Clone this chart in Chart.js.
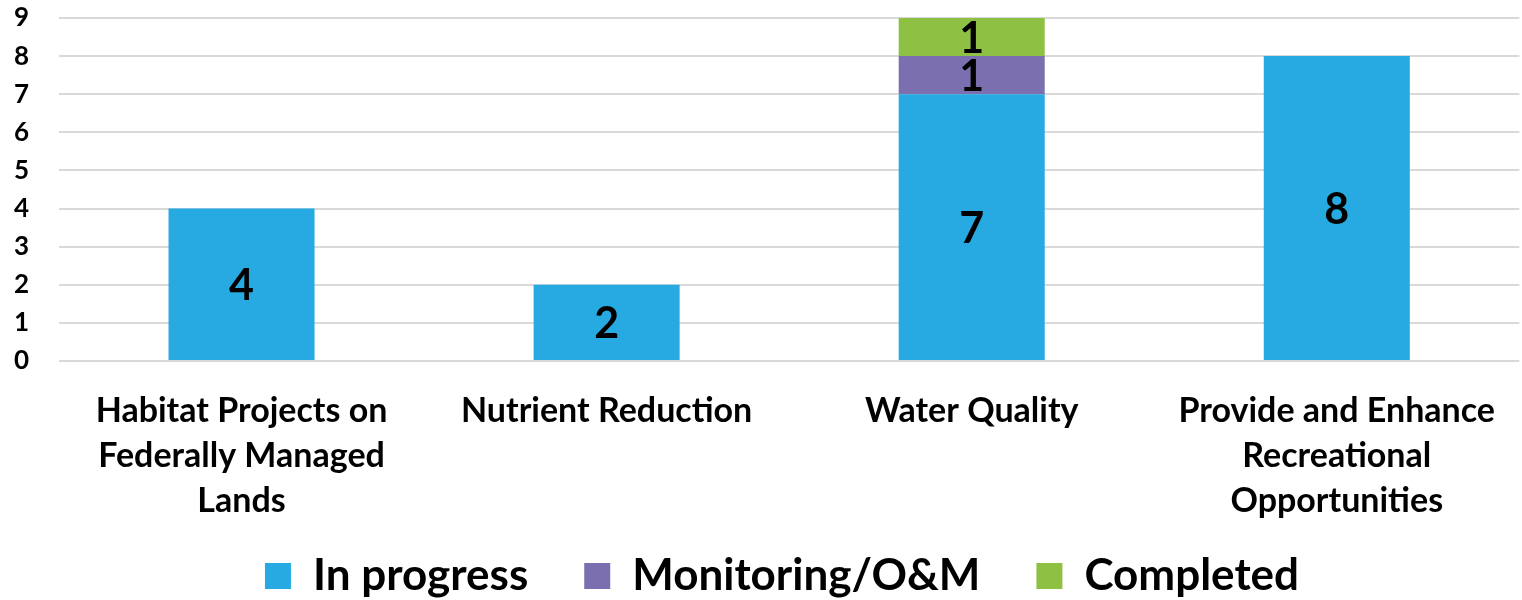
<!DOCTYPE html>
<html>
<head>
<meta charset="utf-8">
<script src="https://cdn.jsdelivr.net/npm/chart.js@4"></script>
<style>
  html, body { margin: 0; padding: 0; background: #fff; }
  #wrap { width: 1522px; height: 600px; }
</style>
</head>
<body>
<div id="wrap"><canvas id="chart"></canvas></div>
<script>
const categories = [
    ['Habitat Projects on', 'Federally Managed', 'Lands'],
    ['Nutrient Reduction'],
    ['Water Quality'],
    ['Provide and Enhance', 'Recreational', 'Opportunities']
];
const seriesNames = ['In progress', 'Monitoring/O&M', 'Completed'];
const inProgress = [4, 2, 7, 8];
const monitoring = [0, 0, 1, 0];
const completed = [0, 0, 1, 0];
const yTicks = [0, 1, 2, 3, 4, 5, 6, 7, 8, 9];

const FONT = 'Lato, "Open Sans", sans-serif';
const LEGEND_HEIGHT = 102;

// draws the value in the middle of every non-empty segment
const barValueLabels = {
    id: 'barValueLabels',
    afterDatasetsDraw(chart) {
        const ctx = chart.ctx;
        ctx.save();
        ctx.font = 'bold 43px ' + FONT;
        ctx.fillStyle = '#000';
        ctx.textAlign = 'center';
        ctx.textBaseline = 'middle';
        chart.data.datasets.forEach((ds, i) => {
            const meta = chart.getDatasetMeta(i);
            meta.data.forEach((bar, j) => {
                const v = ds.data[j];
                if (!v) return;
                ctx.fillText(String(v), bar.x, (bar.y + bar.base) / 2 + 2);
            });
        });
        ctx.restore();
    }
};

// legend padding is wide for spacing between items, so cap its height
// and nudge the row right (chart.js counts the trailing padding when centering)
const legendHeightFix = {
    id: 'legendHeightFix',
    beforeUpdate(chart) {
        const legend = chart.legend;
        if (!legend || legend._fixed) return;
        const origFit = legend.fit;
        legend.fit = function () {
            origFit.call(this);
            this.height = LEGEND_HEIGHT;
            if (this.lineWidths && this.lineWidths.length) this.lineWidths[0] -= 42;
        };
        legend._fixed = true;
    }
};

const data = {
    labels: categories,
    datasets: [
        { label: seriesNames[0], data: inProgress, backgroundColor: '#27AAE1' },
        { label: seriesNames[1], data: monitoring, backgroundColor: '#7B6FB0' },
        { label: seriesNames[2], data: completed, backgroundColor: '#8DC043' }
    ]
};

const config = {
    type: 'bar',
    data: data,
    plugins: [barValueLabels, legendHeightFix],
    options: {
        responsive: true,
        maintainAspectRatio: false,
        animation: false,
        layout: { padding: { top: 18, right: 0, left: 0, bottom: 0 } },
        datasets: {
            bar: { categoryPercentage: 1, barPercentage: 0.4 }
        },
        scales: {
            x: {
                stacked: true,
                afterFit: s => {
                    s.height = 137;
                    s._computeLabelArea = () => null; // let the 3rd label line run past the axis box
                },
                grid: { display: false, drawTicks: false },
                border: { display: false },
                ticks: {
                    color: '#000',
                    padding: 27,
                    maxRotation: 0,
                    autoSkip: false,
                    font: { family: FONT, size: 34, weight: 'bold', lineHeight: 1.33 }
                }
            },
            y: {
                stacked: true,
                min: 0,
                max: 9,
                afterFit: s => {
                    s.width = 59;
                    s.paddingTop = 0;
                    s.paddingBottom = 0;
                },
                afterBuildTicks: s => { s.ticks = yTicks.map(v => ({ value: v })); },
                grid: { color: '#D9D9D9', lineWidth: 2, drawTicks: false },
                border: { display: false },
                ticks: {
                    color: '#000',
                    padding: 30,
                    autoSkip: false,
                    font: { family: FONT, size: 26, weight: 'bold' }
                }
            }
        },
        plugins: {
            tooltip: { enabled: false },
            legend: {
                position: 'bottom',
                labels: {
                    color: '#000',
                    boxWidth: 26,
                    boxHeight: 26,
                    padding: 56,
                    font: { family: FONT, size: 44, weight: 'bold' }
                }
            }
        }
    }
};

new Chart(document.getElementById('chart'), config);
</script>
</body>
</html>
